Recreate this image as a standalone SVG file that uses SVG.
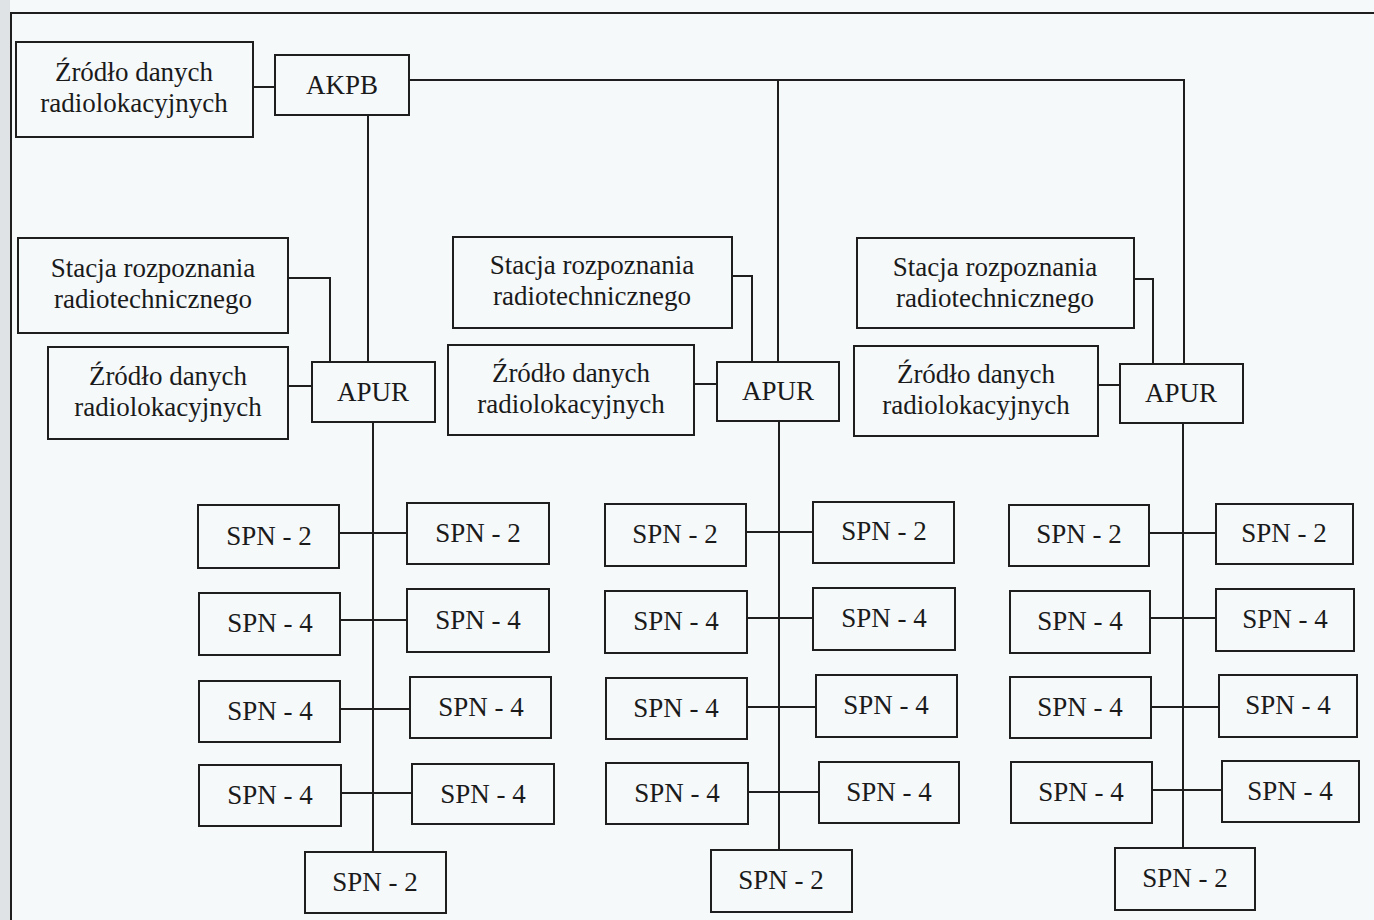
<svg xmlns="http://www.w3.org/2000/svg" width="1374" height="920" viewBox="0 0 1374 920">
<style>
  .b{fill:none;stroke:#1e1e1e;stroke-width:2}
  .c{fill:none;stroke:#1e1e1e;stroke-width:2}
  text{font-family:"Liberation Serif","Times New Roman",serif;font-size:27px;fill:#1a1a1a;text-anchor:middle}
</style>
<rect x="0" y="0" width="1374" height="920" fill="#f5f9fa"/>
<rect x="0" y="0" width="10" height="920" fill="#dfe3e5"/>
<g id="frame" class="c"><path d="M11,920 V13 H1374"/></g>

<g id="connectors" class="c">
  <path d="M253,87 H275"/>
  <path d="M409,80 H1184 V364"/>
  <path d="M778,80 V362"/>
  <path d="M368,115 V362"/>
  <path d="M288,278 H330 V362"/>
  <path d="M288,386 H312"/>
  <path d="M731,276 H752 V362"/>
  <path d="M694,384 H717"/>
  <path d="M1134,279 H1153 V364"/>
  <path d="M1098,385 H1120"/>
  <path d="M373,422 V852"/>
  <path d="M339,533 H407"/><path d="M340,620 H407"/><path d="M340,709 H410"/><path d="M341,793 H412"/>
  <path d="M779,421 V850"/>
  <path d="M746,532 H813"/><path d="M747,618 H813"/><path d="M747,707 H816"/><path d="M748,792 H819"/>
  <path d="M1183,422 V848"/>
  <path d="M1149,533 H1216"/><path d="M1150,618 H1216"/><path d="M1151,707 H1219"/><path d="M1152,790 H1222"/>
</g>

<g id="zrodlo-top"><rect class="b" x="16" y="42" width="237" height="95"/><text x="134" y="81">Źródło danych</text><text x="134" y="112">radiolokacyjnych</text></g>
<g id="akpb"><rect class="b" x="275" y="55" width="134" height="60"/><text x="342" y="94">AKPB</text></g>

<g id="stacja-1"><rect class="b" x="18" y="238" width="270" height="95"/><text x="153" y="277">Stacja rozpoznania</text><text x="153" y="308">radiotechnicznego</text></g>
<g id="zrodlo-1"><rect class="b" x="48" y="347" width="240" height="92"/><text x="168" y="385">Źródło danych</text><text x="168" y="416">radiolokacyjnych</text></g>
<g id="apur-1"><rect class="b" x="312" y="362" width="123" height="60"/><text x="373" y="401">APUR</text></g>

<g id="stacja-2"><rect class="b" x="453" y="237" width="279" height="91"/><text x="592" y="274">Stacja rozpoznania</text><text x="592" y="305">radiotechnicznego</text></g>
<g id="zrodlo-2"><rect class="b" x="448" y="345" width="246" height="90"/><text x="571" y="382">Źródło danych</text><text x="571" y="413">radiolokacyjnych</text></g>
<g id="apur-2"><rect class="b" x="717" y="362" width="122" height="59"/><text x="778" y="400">APUR</text></g>

<g id="stacja-3"><rect class="b" x="857" y="238" width="277" height="90"/><text x="995" y="276">Stacja rozpoznania</text><text x="995" y="307">radiotechnicznego</text></g>
<g id="zrodlo-3"><rect class="b" x="854" y="346" width="244" height="90"/><text x="976" y="383">Źródło danych</text><text x="976" y="414">radiolokacyjnych</text></g>
<g id="apur-3"><rect class="b" x="1120" y="364" width="123" height="59"/><text x="1181" y="402">APUR</text></g>

<g id="spn-1-l1"><rect class="b" x="198" y="505" width="141" height="63"/><text x="269" y="545">SPN - 2</text></g>
<g id="spn-1-r1"><rect class="b" x="407" y="503" width="142" height="61"/><text x="478" y="542">SPN - 2</text></g>
<g id="spn-1-l2"><rect class="b" x="199" y="593" width="141" height="62"/><text x="270" y="632">SPN - 4</text></g>
<g id="spn-1-r2"><rect class="b" x="407" y="589" width="142" height="63"/><text x="478" y="629">SPN - 4</text></g>
<g id="spn-1-l3"><rect class="b" x="199" y="681" width="141" height="61"/><text x="270" y="720">SPN - 4</text></g>
<g id="spn-1-r3"><rect class="b" x="410" y="677" width="141" height="61"/><text x="481" y="716">SPN - 4</text></g>
<g id="spn-1-l4"><rect class="b" x="199" y="765" width="142" height="61"/><text x="270" y="804">SPN - 4</text></g>
<g id="spn-1-r4"><rect class="b" x="412" y="764" width="142" height="60"/><text x="483" y="803">SPN - 4</text></g>
<g id="spn-1-b"><rect class="b" x="305" y="852" width="141" height="61"/><text x="375" y="891">SPN - 2</text></g>

<g id="spn-2-l1"><rect class="b" x="605" y="504" width="141" height="62"/><text x="675" y="543">SPN - 2</text></g>
<g id="spn-2-r1"><rect class="b" x="813" y="502" width="141" height="61"/><text x="884" y="540">SPN - 2</text></g>
<g id="spn-2-l2"><rect class="b" x="605" y="591" width="142" height="62"/><text x="676" y="630">SPN - 4</text></g>
<g id="spn-2-r2"><rect class="b" x="813" y="588" width="142" height="62"/><text x="884" y="627">SPN - 4</text></g>
<g id="spn-2-l3"><rect class="b" x="606" y="678" width="141" height="61"/><text x="676" y="717">SPN - 4</text></g>
<g id="spn-2-r3"><rect class="b" x="816" y="675" width="141" height="62"/><text x="886" y="714">SPN - 4</text></g>
<g id="spn-2-l4"><rect class="b" x="606" y="763" width="142" height="61"/><text x="677" y="802">SPN - 4</text></g>
<g id="spn-2-r4"><rect class="b" x="819" y="762" width="140" height="61"/><text x="889" y="801">SPN - 4</text></g>
<g id="spn-2-b"><rect class="b" x="711" y="850" width="141" height="62"/><text x="781" y="889">SPN - 2</text></g>

<g id="spn-3-l1"><rect class="b" x="1009" y="505" width="140" height="61"/><text x="1079" y="543">SPN - 2</text></g>
<g id="spn-3-r1"><rect class="b" x="1216" y="504" width="137" height="60"/><text x="1284" y="542">SPN - 2</text></g>
<g id="spn-3-l2"><rect class="b" x="1010" y="591" width="140" height="62"/><text x="1080" y="630">SPN - 4</text></g>
<g id="spn-3-r2"><rect class="b" x="1216" y="589" width="138" height="62"/><text x="1285" y="628">SPN - 4</text></g>
<g id="spn-3-l3"><rect class="b" x="1010" y="677" width="141" height="61"/><text x="1080" y="716">SPN - 4</text></g>
<g id="spn-3-r3"><rect class="b" x="1219" y="675" width="138" height="62"/><text x="1288" y="714">SPN - 4</text></g>
<g id="spn-3-l4"><rect class="b" x="1011" y="762" width="141" height="61"/><text x="1081" y="801">SPN - 4</text></g>
<g id="spn-3-r4"><rect class="b" x="1222" y="761" width="137" height="61"/><text x="1290" y="800">SPN - 4</text></g>
<g id="spn-3-b"><rect class="b" x="1115" y="848" width="140" height="62"/><text x="1185" y="887">SPN - 2</text></g>
</svg>
